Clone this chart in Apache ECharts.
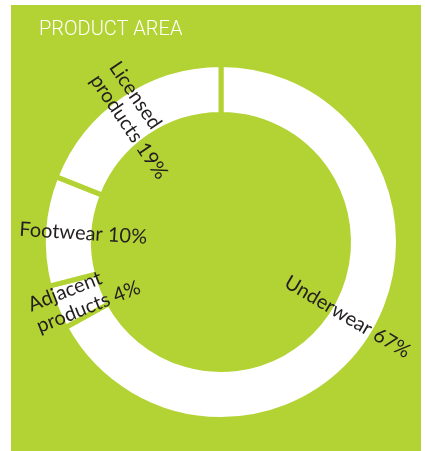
<!DOCTYPE html>
<html>
<head>
<meta charset="utf-8">
<style>
  html, body { margin: 0; padding: 0; background: #ffffff; }
  #chart { width: 425px; height: 451px; }
</style>
<script src="https://cdn.jsdelivr.net/npm/echarts@6/dist/echarts.min.js"></script>
</head>
<body>
<div id="chart"></div>
<script>
// Product area split, clockwise from 12 o'clock
const categories = ['Underwear', 'Adjacent\nproducts', 'Footwear', 'Licensed\nproducts'];
const shares = [67, 4, 10, 19];
const chartTitle = 'PRODUCT AREA';

const GREEN = '#b3d335';
const INK = '#231f20';
const CENTER = [221, 242];

const chart = echarts.init(document.getElementById('chart'), null, { renderer: 'canvas' });

const ringData = categories.map((name, i) => ({ name: name, value: shares[i] }));

// the short single-line label on the left sits a little further toward the hole
const labelData = categories.map((name, i) => {
  const item = { name: name, value: shares[i] };
  if (name === 'Footwear') item.label = { padding: [0, 0, 0, 18] };
  return item;
});

const labelText = function (p) {
  const lines = (p.name + ' ' + p.value + '%').split('\n');
  return lines.map(l => '{t|' + l + '}').join('\n');
};

chart.setOption({
  animation: false,
  backgroundColor: '#ffffff',
  graphic: [
    {
      type: 'rect',
      z: -10,
      silent: true,
      shape: { x: 11, y: 5, width: 410, height: 446 },
      style: { fill: GREEN }
    },
    {
      type: 'text',
      left: 39,
      top: 20,
      silent: true,
      style: {
        text: chartTitle,
        fill: '#ffffff',
        font: '300 20px Roboto'
      }
    }
  ],
  series: [
    {
      // white ring segments separated by green gaps
      type: 'pie',
      center: CENTER,
      radius: [127.5, 177.5],
      startAngle: 90,
      clockwise: true,
      silent: true,
      emphasis: { disabled: true },
      itemStyle: {
        color: '#ffffff',
        borderColor: GREEN,
        borderWidth: 5
      },
      label: { show: false },
      labelLine: { show: false },
      data: ringData
    },
    {
      // radial labels, set slightly inside the ring's mid-line
      type: 'pie',
      center: CENTER,
      radius: [122, 166],
      startAngle: 90,
      clockwise: true,
      silent: true,
      avoidLabelOverlap: false,
      emphasis: { disabled: true },
      itemStyle: { color: 'rgba(0,0,0,0)', borderWidth: 0 },
      label: {
        show: true,
        position: 'inside',
        rotate: 'radial',
        color: INK,
        formatter: labelText,
        rich: {
          t: {
            color: INK,
            fontFamily: 'Lato',
            fontSize: 20,
            lineHeight: 23,
            align: 'left'
          }
        }
      },
      labelLine: { show: false },
      data: labelData
    }
  ]
});
</script>
</body>
</html>
